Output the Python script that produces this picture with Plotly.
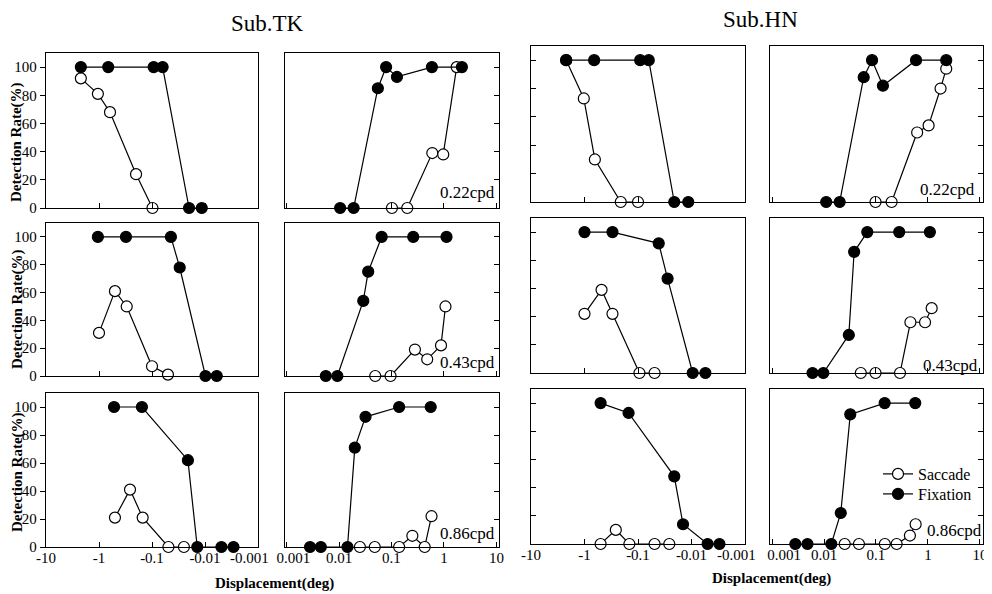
import plotly.graph_objects as go

# ---------------- data (displacement in deg, detection rate in %) ----------------
# Sub.TK, 0.22 cpd
TK_022_SAC_NEG_X = [-2.2, -1.05, -0.62, -0.2, -0.098]
TK_022_SAC_NEG_Y = [92, 81, 68, 24, 0]
TK_022_FIX_NEG_X = [-2.2, -0.67, -0.093, -0.063, -0.02, -0.0115]
TK_022_FIX_NEG_Y = [100, 100, 100, 100, 0, 0]
TK_022_SAC_POS_X = [0.102, 0.2, 0.6, 0.97, 1.75]
TK_022_SAC_POS_Y = [0, 0, 39, 38, 100]
TK_022_FIX_POS_X = [0.0105, 0.019, 0.055, 0.079, 0.127, 0.59, 2.2]
TK_022_FIX_POS_Y = [0, 0, 85, 100, 93, 100, 100]
# Sub.TK, 0.43 cpd
TK_043_SAC_NEG_X = [-1.0, -0.5, -0.3, -0.1, -0.05]
TK_043_SAC_NEG_Y = [31, 61, 50, 7, 1]
TK_043_FIX_NEG_X = [-1.05, -0.31, -0.044, -0.030, -0.0098, -0.006]
TK_043_FIX_NEG_Y = [100, 100, 100, 78, 0, 0]
TK_043_SAC_POS_X = [0.049, 0.096, 0.28, 0.48, 0.88, 1.07]
TK_043_SAC_POS_Y = [0, 0, 19, 12, 22, 50]
TK_043_FIX_POS_X = [0.0056, 0.0093, 0.029, 0.036, 0.065, 0.26, 1.12]
TK_043_FIX_POS_Y = [0, 0, 54, 75, 100, 100, 100]
# Sub.TK, 0.86 cpd
TK_086_SAC_NEG_X = [-0.5, -0.26, -0.15, -0.049, -0.025]
TK_086_SAC_NEG_Y = [21, 41, 21, 0, 0]
TK_086_FIX_NEG_X = [-0.52, -0.155, -0.021, -0.014, -0.0049, -0.0029]
TK_086_FIX_NEG_Y = [100, 100, 62, 0, 0, 0]
TK_086_SAC_POS_X = [0.025, 0.048, 0.14, 0.25, 0.43, 0.58]
TK_086_SAC_POS_Y = [0, 0, 0, 8, 0, 22]
TK_086_FIX_POS_X = [0.0028, 0.0045, 0.0145, 0.020, 0.032, 0.14, 0.56]
TK_086_FIX_POS_Y = [0, 0, 0, 71, 93, 100, 100]
# Sub.HN, 0.22 cpd
HN_022_SAC_NEG_X = [-2.2, -1.03, -0.64, -0.21, -0.1]
HN_022_SAC_NEG_Y = [100, 73, 30, 0, 0]
HN_022_FIX_NEG_X = [-2.2, -0.66, -0.091, -0.063, -0.021, -0.0115]
HN_022_FIX_NEG_Y = [100, 100, 100, 100, 0, 0]
HN_022_SAC_POS_X = [0.098, 0.20, 0.62, 1.03, 1.75, 2.25]
HN_022_SAC_POS_Y = [0, 0, 49, 54, 80, 94]
HN_022_FIX_POS_X = [0.011, 0.020, 0.058, 0.084, 0.136, 0.59, 2.25]
HN_022_FIX_POS_Y = [0, 0, 88, 100, 82, 100, 100]
# Sub.HN, 0.43 cpd
HN_043_SAC_NEG_X = [-1.0, -0.48, -0.30, -0.094, -0.049]
HN_043_SAC_NEG_Y = [42, 59, 42, 0, 0]
HN_043_FIX_NEG_X = [-1.0, -0.30, -0.041, -0.028, -0.0095, -0.0055]
HN_043_FIX_NEG_Y = [100, 100, 92, 67, 0, 0]
HN_043_SAC_POS_X = [0.051, 0.098, 0.29, 0.46, 0.88, 1.18]
HN_043_SAC_POS_Y = [0, 0, 0, 36, 36, 46]
HN_043_FIX_POS_X = [0.006, 0.0097, 0.030, 0.038, 0.068, 0.28, 1.09]
HN_043_FIX_POS_Y = [0, 0, 27, 86, 100, 100, 100]
# Sub.HN, 0.86 cpd
HN_086_SAC_NEG_X = [-0.50, -0.26, -0.145, -0.049, -0.026]
HN_086_SAC_NEG_Y = [0, 10, 0, 0, 0]
HN_086_FIX_NEG_X = [-0.50, -0.15, -0.021, -0.0144, -0.005, -0.003]
HN_086_FIX_NEG_Y = [100, 93, 48, 14, 0, 0]
HN_086_SAC_POS_X = [0.025, 0.047, 0.148, 0.25, 0.45, 0.58]
HN_086_SAC_POS_Y = [0, 0, 0, 0, 6, 14]
HN_086_FIX_POS_X = [0.0028, 0.0048, 0.0138, 0.021, 0.032, 0.147, 0.57]
HN_086_FIX_POS_Y = [0, 0, 0, 22, 92, 100, 100]

SUBJECTS = ["Sub.TK", "Sub.HN"]
FREQ_LABELS = ["0.22cpd", "0.43cpd", "0.86cpd"]
SERIES_NAMES = ["Saccade", "Fixation"]
Y_TICKS = [0, 20, 40, 60, 80, 100]
NEG_TICKVALS = [-10, -1, -0.1, -0.01, -0.001]
NEG_TICKTEXT = ["-10", "-1", "-0.1", "-0.01", "-0.001"]
POS_TICKVALS = [0.001, 0.01, 0.1, 1, 10]
POS_TICKTEXT = ["0.001", "0.01", "0.1", "1", "10"]
# where the printed labels sit (the outermost ones are nudged inward in the original)
NEG_LABELVALS = [[10, 1, 0.1, 0.01, 0.00145], [10, 1, 0.1, 0.01, 0.00145]]
POS_LABELVALS = [[0.00135, 0.01, 0.1, 1, 10], [0.0017, 0.01, 0.1, 1, 10]]
X_TITLE = "Displacement(deg)"
Y_TITLE = "Detection Rate(%)"

# panel grid: rows = frequency, cols = (TK neg, TK pos, HN neg, HN pos)
PANELS = [
    [(TK_022_SAC_NEG_X, TK_022_SAC_NEG_Y, TK_022_FIX_NEG_X, TK_022_FIX_NEG_Y),
     (TK_022_SAC_POS_X, TK_022_SAC_POS_Y, TK_022_FIX_POS_X, TK_022_FIX_POS_Y),
     (HN_022_SAC_NEG_X, HN_022_SAC_NEG_Y, HN_022_FIX_NEG_X, HN_022_FIX_NEG_Y),
     (HN_022_SAC_POS_X, HN_022_SAC_POS_Y, HN_022_FIX_POS_X, HN_022_FIX_POS_Y)],
    [(TK_043_SAC_NEG_X, TK_043_SAC_NEG_Y, TK_043_FIX_NEG_X, TK_043_FIX_NEG_Y),
     (TK_043_SAC_POS_X, TK_043_SAC_POS_Y, TK_043_FIX_POS_X, TK_043_FIX_POS_Y),
     (HN_043_SAC_NEG_X, HN_043_SAC_NEG_Y, HN_043_FIX_NEG_X, HN_043_FIX_NEG_Y),
     (HN_043_SAC_POS_X, HN_043_SAC_POS_Y, HN_043_FIX_POS_X, HN_043_FIX_POS_Y)],
    [(TK_086_SAC_NEG_X, TK_086_SAC_NEG_Y, TK_086_FIX_NEG_X, TK_086_FIX_NEG_Y),
     (TK_086_SAC_POS_X, TK_086_SAC_POS_Y, TK_086_FIX_POS_X, TK_086_FIX_POS_Y),
     (HN_086_SAC_NEG_X, HN_086_SAC_NEG_Y, HN_086_FIX_NEG_X, HN_086_FIX_NEG_Y),
     (HN_086_SAC_POS_X, HN_086_SAC_POS_Y, HN_086_FIX_POS_X, HN_086_FIX_POS_Y)],
]

# ---------------- layout geometry (pixels of the 992x594 page) ----------------
PAGE_OFF = 8                     # the page body margin places the figure at (8, 8)
W, H = 992 - PAGE_OFF, 594 - PAGE_OFF
SERIF = "Liberation Serif, Times New Roman, serif"
COL_X = [(46, 258), (285, 499), (531, 745), (770, 983)]
ROW_Y_LEFT = [(53, 208), (223, 376), (393, 547)]
ROW_Y_RIGHT = [(46, 202), (218, 373), (389, 544)]
X_RANGES = [[1, -3], [-3.03, 1.05], [1, -3], [-3.04, 1.06]]
TICKFONT = dict(family=SERIF, size=15, color="black")


def fx(px):
    return (px - PAGE_OFF) / W


def fy(py):
    return 1 - (py - PAGE_OFF) / H


fig = go.Figure()
layout = {}

for r in range(3):
    for c in range(4):
        k = r * 4 + c + 1
        sx, sy, fxs, fys = PANELS[r][c]
        neg = c in (0, 2)
        tr = (lambda v: [abs(a) for a in v]) if neg else (lambda v: list(v))
        show_leg = (r == 2 and c == 3)
        fig.add_trace(go.Scatter(
            x=tr(sx), y=sy, mode="lines+markers", name=SERIES_NAMES[0],
            line=dict(color="black", width=1.2),
            marker=dict(size=11, color="white", line=dict(color="black", width=1.2)),
            cliponaxis=False, showlegend=show_leg, legend="legend",
            xaxis=f"x{k}", yaxis=f"y{k}"))
        fig.add_trace(go.Scatter(
            x=tr(fxs), y=fys, mode="lines+markers", name=SERIES_NAMES[1],
            line=dict(color="black", width=1.2),
            marker=dict(size=11, color="black", line=dict(color="black", width=1.2)),
            cliponaxis=False, showlegend=show_leg, legend="legend2",
            xaxis=f"x{k}", yaxis=f"y{k}"))

        x0, x1 = COL_X[c]
        y0, y1 = (ROW_Y_LEFT if c < 2 else ROW_Y_RIGHT)[r]
        tv = [abs(v) for v in NEG_TICKVALS] if neg else POS_TICKVALS
        layout[f"xaxis{k}"] = dict(
            domain=[fx(x0), fx(x1)], anchor=f"y{k}", type="log",
            range=X_RANGES[c], showgrid=False, zeroline=False, automargin=False,
            showline=True, linecolor="black", linewidth=1.3, mirror=True,
            ticks="inside", ticklen=5, tickwidth=1.2, tickcolor="black",
            tickvals=tv, showticklabels=False)
        if r == 2:
            # label-only companion axis for the printed tick labels
            kk = 12 + c + 1
            lv = NEG_LABELVALS[c // 2] if neg else POS_LABELVALS[c // 2]
            layout[f"xaxis{kk}"] = dict(
                domain=[fx(x0), fx(x1)], anchor=f"y{k}", overlaying=f"x{k}",
                type="log", range=X_RANGES[c], showgrid=False, zeroline=False,
                automargin=False, showline=False, ticks="", side="bottom",
                tickvals=lv, ticktext=NEG_TICKTEXT if neg else POS_TICKTEXT,
                showticklabels=True, tickfont=TICKFONT)
        if c == 0:
            ycfg = dict(side="left", ticks="outside", showticklabels=True)
        elif c == 2:
            ycfg = dict(side="left", ticks="inside", showticklabels=False)
        else:
            ycfg = dict(side="right", ticks="inside", showticklabels=False)
        layout[f"yaxis{k}"] = dict(
            domain=[fy(y1), fy(y0)], anchor=f"x{k}", range=[0, 110],
            showgrid=False, zeroline=False, automargin=False,
            showline=True, linecolor="black", linewidth=1.3, mirror=True,
            ticklen=5, tickwidth=1.2, tickcolor="black",
            tickvals=Y_TICKS, tickfont=TICKFONT, **ycfg)

# invisible traces to register label-only axes
for c in range(4):
    kk = 12 + c + 1
    fig.add_trace(go.Scatter(x=[], y=[], xaxis=f"x{kk}", yaxis=f"y{8 + c + 1}",
                             showlegend=False, hoverinfo="skip"))

annotations = []
# subject titles
for txt, (px, py) in zip(SUBJECTS, [(267, 24), (760, 20)]):
    annotations.append(dict(text=txt, x=fx(px), y=fy(py), xref="paper", yref="paper",
                            showarrow=False, xanchor="center", yanchor="middle",
                            font=dict(family=SERIF, size=23, color="black")))
# y titles
for py in [142, 309, 472]:
    annotations.append(dict(text=f"<b>{Y_TITLE}</b>", x=fx(17), y=fy(py), xref="paper",
                            yref="paper", showarrow=False, textangle=-90,
                            xanchor="center", yanchor="middle",
                            font=dict(family=SERIF, size=15, color="black")))
# x titles
for px, py in [(274, 583), (771, 578)]:
    annotations.append(dict(text=f"<b>{X_TITLE}</b>", x=fx(px), y=fy(py), xref="paper",
                            yref="paper", showarrow=False, xanchor="center",
                            yanchor="middle",
                            font=dict(family=SERIF, size=15, color="black")))
# frequency labels
CPD_POS = [[(497, 192), (977, 190)], [(497, 362), (980, 365)], [(497, 533), (984, 530)]]
for r in range(3):
    for px, py in CPD_POS[r]:
        annotations.append(dict(text=FREQ_LABELS[r], x=fx(px), y=fy(py), xref="paper",
                                yref="paper", showarrow=False, xanchor="right",
                                yanchor="middle",
                                font=dict(family=SERIF, size=17, color="black")))

LEG_STYLE = dict(xanchor="left", yanchor="top", bgcolor="rgba(0,0,0,0)", borderwidth=0,
                 font=dict(family=SERIF, size=16, color="black"))
fig.update_layout(
    width=W, height=H, margin=dict(l=0, r=0, t=0, b=0, pad=0),
    paper_bgcolor="white", plot_bgcolor="white",
    annotations=annotations,
    legend=dict(x=fx(878), y=fy(457), **LEG_STYLE),
    legend2=dict(x=fx(878), y=fy(477), **LEG_STYLE),
    **layout)

fig.write_html("out.html")
